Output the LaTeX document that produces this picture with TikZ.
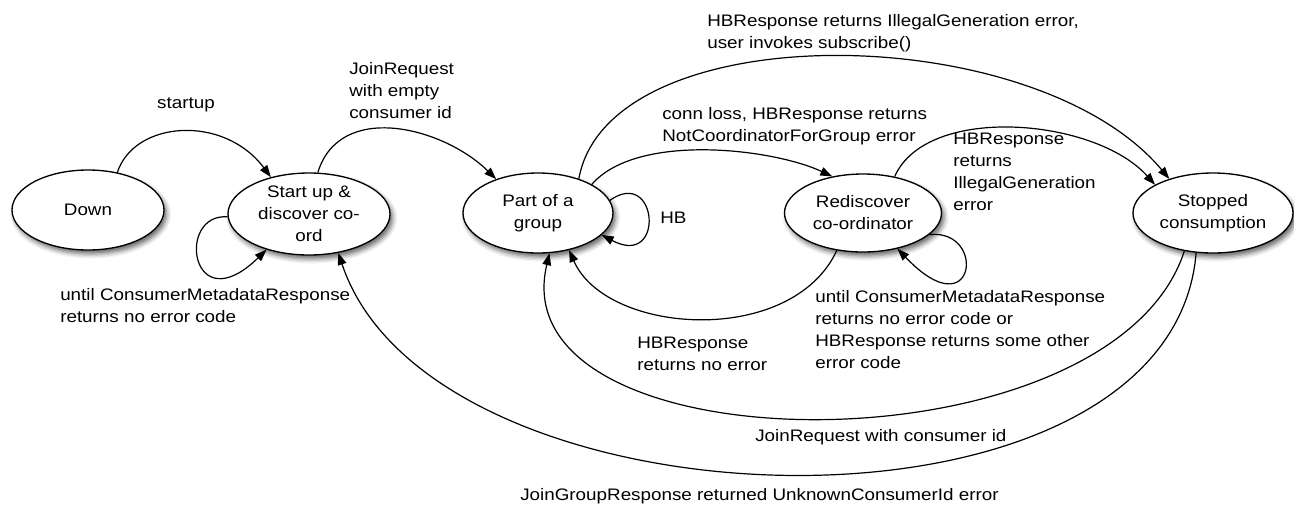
\documentclass[tikz,border=0pt]{standalone}
\usepackage{fontspec}
\setmainfont[FakeStretch=1.13]{Liberation Sans}
\usetikzlibrary{shapes.geometric,arrows.meta,shadows.blur}
\begin{document}
\begin{tikzpicture}[x=0.75pt,y=-0.75pt,
  font=\fontsize{12.5}{16.5}\selectfont,
  state/.style={ellipse, draw=black, line width=1pt, fill=white, inner sep=0pt, align=center,
    blur shadow={shadow xshift=2pt, shadow yshift=-3pt, shadow blur radius=3.5pt, shadow opacity=60}},
  conn/.style={draw=black, line width=0.9pt, -{Triangle[length=9pt,width=6.5pt]}},
  lbl/.style={inner sep=0pt, align=left, anchor=north west},
  lblb/.style={inner sep=0pt, anchor=base west}]
\useasboundingbox (0,0) rectangle (1294,508);

% states
\node[state, minimum width=114pt, minimum height=60pt] (down) at (88,210) {Down};
\node[state, minimum width=121.5pt, minimum height=61.5pt] (start) at (309,214) {Start up \&\\discover co-\\ord};
\node[state, minimum width=112.5pt, minimum height=60pt] (part) at (538,213) {Part of a\\group};
\node[state, minimum width=117.75pt, minimum height=58.5pt] (redis) at (863,213) {Rediscover\\co-ordinator};
\node[state, minimum width=120pt, minimum height=60pt] (stop) at (1213,213) {Stopped\\consumption};

% connectors
\draw[conn] (down.52) .. controls +(17,-52) and +(-47,-63) .. (start.136);
\draw[conn] (start.78) .. controls +(22,-72) and +(-53,-52) .. (part.141);
\draw[conn] (part.40) .. controls +(30,-165) and +(-135,-161) .. (stop.142);
\draw[conn] (part.28) .. controls +(45,-52) and +(-60,-28) .. (redis.130);
\draw[conn] (redis.49) .. controls +(32,-73) and +(-60,-67) .. (stop.154);
\draw[conn] (part.10) .. controls +(48,-34) and +(64,34) .. (part.-19);
\draw[conn] (start.182) .. controls +(-52,-4) and +(-76,74) .. (start.220);
\draw[conn] (redis.-18) .. controls +(58,-6) and +(78,82) .. (redis.-46);
\draw[conn] (redis.235) .. controls +(-45,97) and +(37,85) .. (part.-50);
\draw[conn] (stop.233) .. controls +(-73,225) and +(-52,218) .. (part.-74);
\draw[conn] (stop.247) .. controls +(-25,305) and +(95,285) .. (start.-53);

% labels
\node[inner sep=0pt, anchor=base] (lstartup) at (186,108) {startup};
\node[lbl] (ljoin) at (349,62) {JoinRequest\\with empty\\consumer id};
\node[lbl] (lillegal) at (707,14) {HBResponse returns IllegalGeneration error,\\user invokes subscribe()};
\node[lbl] (lconn) at (662,107) {conn loss, HBResponse returns\\NotCoordinatorForGroup error};
\node[lbl] (lillegal2) at (953,133) {HBResponse\\returns\\IllegalGeneration\\error};
\node[lblb] (lhb) at (660,223) {HB};
\node[lbl] (luntil) at (60,288) {until ConsumerMetadataResponse\\returns no error code};
\node[lbl] (lnoerr) at (637,337) {HBResponse\\returns no error};
\node[lbl] (luntil2) at (815,290) {until ConsumerMetadataResponse\\returns no error code or\\HBResponse returns some other\\error code};
\node[lblb] (ljoinid) at (755,441) {JoinRequest with consumer id};
\node[lblb] (lunknown) at (520,500) {JoinGroupResponse returned UnknownConsumerId error};
\end{tikzpicture}
\end{document}
